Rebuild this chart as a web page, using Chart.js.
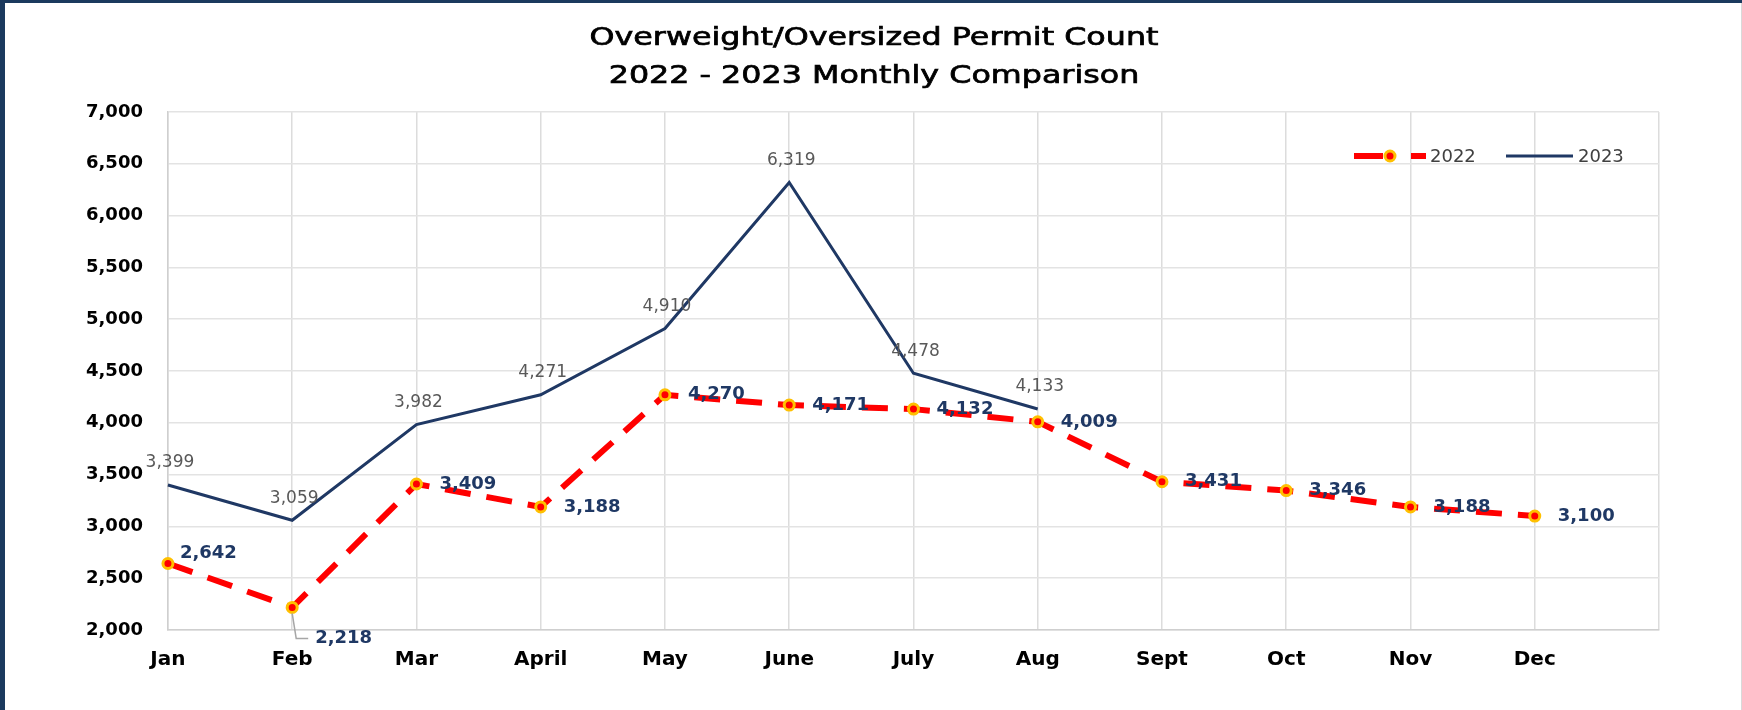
<!DOCTYPE html>
<html>
<head>
<meta charset="utf-8">
<title>Overweight/Oversized Permit Count</title>
<script src="https://cdn.jsdelivr.net/npm/chart.js@4.4.1/dist/chart.umd.min.js"></script>
<style>
    body { margin: 0; background: #1b3a5e; width: 1742px; height: 710px; overflow: hidden; }
    .chart-container { position: absolute; left: 5px; top: 3px; width: 1736px; height: 707px; background: #fff; border-right: 1px solid #d9d9d9; }
</style>
</head>
<body>
<div class="chart-container">
    <canvas id="permitChart" width="1736" height="707"></canvas>
</div>
<script>
// Data
const months = ['Jan', 'Feb', 'Mar', 'April', 'May', 'June', 'July', 'Aug', 'Sept', 'Oct', 'Nov', 'Dec'];
const permits2022 = [2642, 2218, 3409, 3188, 4270, 4171, 4132, 4009, 3431, 3346, 3188, 3100];
const permits2023 = [3399, 3059, 3982, 4271, 4910, 6319, 4478, 4133];
const yTicks = [2000, 2500, 3000, 3500, 4000, 4500, 5000, 5500, 6000, 6500, 7000];
const seriesNames = ['2022', '2023'];
const titleLines = ['Overweight/Oversized Permit Count', '2022 - 2023 Monthly Comparison'];

const FONT = 'DejaVu Sans';
const RED = '#ff0000';
const GOLD = '#ffc000';
const NAVY = '#1f3864';

const fmt = (v) => v.toLocaleString('en-US');

// Two line title, drawn a little wider like the original
const wideTitle = {
    id: 'wideTitle',
    afterDraw(chart) {
        const ctx = chart.ctx;
        ctx.save();
        ctx.font = '25px "' + FONT + '"';
        ctx.fillStyle = '#000';
        ctx.strokeStyle = '#000';
        ctx.lineWidth = 0.7;
        ctx.textAlign = 'center';
        ctx.textBaseline = 'middle';
        titleLines.forEach((line, i) => {
            ctx.save();
            ctx.translate(chart.width / 2 + 1, 35 + i * 38);
            ctx.scale(1.27, 1);
            ctx.fillText(line, 0, 0);
            ctx.strokeText(line, 0, 0);
            ctx.restore();
        });
        ctx.restore();
    }
};

// Value labels next to each point
const valueLabels = {
    id: 'valueLabels',
    afterDatasetsDraw(chart) {
        const ctx = chart.ctx;
        ctx.save();

        // 2023: grey labels above the line
        const meta23 = chart.getDatasetMeta(1);
        ctx.font = '17px "' + FONT + '"';
        ctx.fillStyle = '#595959';
        ctx.textAlign = 'center';
        ctx.textBaseline = 'middle';
        meta23.data.forEach((pt, i) => {
            ctx.fillText(fmt(permits2023[i]), pt.x + 2, pt.y - 22);
        });

        // 2022: bold navy labels to the right of the points
        const meta22 = chart.getDatasetMeta(0);
        ctx.font = 'bold 18px "' + FONT + '"';
        ctx.fillStyle = NAVY;
        ctx.textAlign = 'left';
        meta22.data.forEach((pt, i) => {
            const text = fmt(permits2022[i]);
            if (i === 0) {
                ctx.fillText(text, pt.x + 12, pt.y - 10);
            } else if (i === 1) {
                // leader line down to the label
                ctx.strokeStyle = '#a6a6a6';
                ctx.lineWidth = 1.5;
                ctx.beginPath();
                ctx.moveTo(pt.x, pt.y + 6);
                ctx.lineTo(pt.x + 4, pt.y + 31);
                ctx.lineTo(pt.x + 16, pt.y + 31);
                ctx.stroke();
                ctx.fillText(text, pt.x + 23, pt.y + 31);
            } else {
                ctx.fillText(text, pt.x + 23, pt.y);
            }
        });
        ctx.restore();
    }
};

// Legend in the top right corner of the plot
const lineLegend = {
    id: 'lineLegend',
    afterDraw(chart) {
        const ctx = chart.ctx;
        const y = chart.chartArea.top + 44;
        ctx.save();
        ctx.font = '18px "' + FONT + '"';
        ctx.fillStyle = '#404040';
        ctx.textBaseline = 'middle';

        // 2022 entry
        let x = 1349;
        ctx.strokeStyle = RED;
        ctx.lineWidth = 6;
        ctx.setLineDash([29, 28, 15]);
        ctx.beginPath();
        ctx.moveTo(x, y);
        ctx.lineTo(x + 72, y);
        ctx.stroke();
        ctx.setLineDash([]);
        ctx.beginPath();
        ctx.arc(x + 36, y, 5, 0, Math.PI * 2);
        ctx.fillStyle = RED;
        ctx.fill();
        ctx.strokeStyle = GOLD;
        ctx.lineWidth = 3;
        ctx.stroke();
        ctx.fillStyle = '#404040';
        ctx.fillText(seriesNames[0], x + 76, y + 1);

        // 2023 entry
        x = 1501;
        ctx.strokeStyle = NAVY;
        ctx.lineWidth = 3;
        ctx.beginPath();
        ctx.moveTo(x, y);
        ctx.lineTo(x + 67, y);
        ctx.stroke();
        ctx.fillText(seriesNames[1], x + 72, y + 1);
        ctx.restore();
    }
};

const ctx = document.getElementById('permitChart').getContext('2d');
new Chart(ctx, {
    type: 'line',
    data: {
        labels: [...months, ''],
        datasets: [
            {
                label: seriesNames[0],
                data: permits2022,
                borderColor: RED,
                borderWidth: 6,
                borderDash: [26, 16],
                pointRadius: 5,
                pointBackgroundColor: RED,
                pointBorderColor: GOLD,
                pointBorderWidth: 3,
                tension: 0,
            },
            {
                label: seriesNames[1],
                data: permits2023,
                borderColor: NAVY,
                borderWidth: 3,
                pointRadius: 0,
                tension: 0,
            }
        ]
    },
    options: {
        responsive: false,
        animation: false,
        layout: {
            padding: { left: 56, right: 82, top: 109, bottom: 20 }
        },
        scales: {
            x: {
                offset: false,
                grid: { color: '#dcdcdc', lineWidth: 1.5, drawTicks: false },
                border: { color: '#cfcfcf', width: 1.5 },
                ticks: {
                    padding: 18,
                    color: '#000',
                    autoSkip: false,
                    maxRotation: 0,
                    font: { family: FONT, size: 20, weight: 'bold' }
                }
            },
            y: {
                min: yTicks[0],
                max: yTicks[yTicks.length - 1],
                afterBuildTicks: (axis) => { axis.ticks = yTicks.map(v => ({ value: v })); },
                grid: { color: '#e3e3e3', lineWidth: 1.5, drawTicks: false },
                border: { color: '#cfcfcf', width: 1.5 },
                ticks: {
                    padding: 25,
                    color: '#000',
                    font: { family: FONT, size: 18, weight: 'bold' },
                    callback: (v) => fmt(v)
                }
            }
        },
        plugins: {
            legend: { display: false },
            tooltip: { enabled: false },
            title: { display: false }
        }
    },
    plugins: [valueLabels, lineLegend, wideTitle]
});
</script>
</body>
</html>
